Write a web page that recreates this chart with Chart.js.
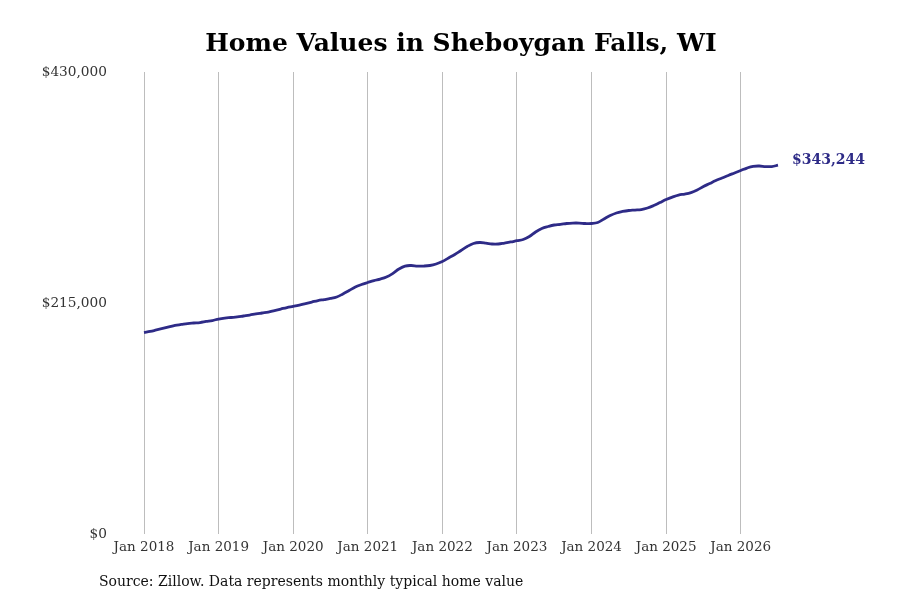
<!DOCTYPE html>
<html>
<head>
    <title>Home Values in Sheboygan Falls, WI</title>
    <script src="https://cdn.jsdelivr.net/npm/chart.js"></script>
    <style>
        body {
            margin: 0;
            background-color: #ffffff;
        }
        #wrap {
            width: 900px;
            height: 600px;
        }
    </style>
</head>
<body>
    <div id="wrap"><canvas id="homeChart"></canvas></div>
    <script>
        // monthly typical home value, Jan 2018 .. Jul 2026
        const homeValues = [
            187400, 188500, 189900, 191300, 192700, 194100, 195000, 195900, 196400, 196800, 197800, 198700,
            200100, 201000, 201500, 202000, 202900, 203800, 204800, 205700, 206600, 208000, 209400, 210800,
            211900, 213100, 214500, 215900, 217300, 218200, 219200, 220600, 223400, 226600, 229900, 232200,
            234100, 235900, 237300, 239200, 242400, 246600, 249400, 249900, 249400, 249400, 249900, 251300,
            253600, 256900, 260100, 263900, 267600, 270400, 271300, 270800, 269900, 269900, 270800, 271800,
            273000, 274100, 276900, 281100, 284300, 286200, 287600, 288100, 289000, 289400, 289400, 289000,
            289000, 289900, 293200, 296400, 298800, 300200, 301100, 301500, 302000, 303400, 305700, 308500,
            311300, 313600, 315500, 316400, 317800, 320200, 323400, 326200, 329000, 331300, 333700, 336000,
            338300, 340600, 342200, 342500, 342000, 342000, 343244
        ];
        const tickMonths = [0, 12, 24, 36, 48, 60, 72, 84, 96];
        const tickLabels = ['Jan 2018', 'Jan 2019', 'Jan 2020', 'Jan 2021', 'Jan 2022', 'Jan 2023', 'Jan 2024', 'Jan 2025', 'Jan 2026'];
        const yTicks = [0, 215000, 430000];
        const endLabel = '$343,244';
        const lineColor = '#2e2b87';

        Chart.defaults.font.family = "'DejaVu Serif', serif";
        Chart.defaults.color = '#333333';

        const extras = {
            id: 'extras',
            afterDatasetsDraw(chart) {
                const ctx = chart.ctx;
                const pts = chart.getDatasetMeta(0).data;
                const last = pts[pts.length - 1];
                ctx.save();
                ctx.fillStyle = lineColor;
                ctx.font = "bold 14px 'DejaVu Serif', serif";
                ctx.textBaseline = 'middle';
                ctx.textAlign = 'left';
                ctx.fillText(endLabel, last.x + 14, last.y - 5);
                // source line
                ctx.fillStyle = '#111111';
                ctx.font = "14px 'DejaVu Serif', serif";
                ctx.fillText('Source: Zillow. Data represents monthly typical home value', 99, 582);
                ctx.restore();
            }
        };

        new Chart(document.getElementById('homeChart'), {
            type: 'line',
            data: {
                datasets: [{
                    data: homeValues.map((v, i) => ({ x: i, y: v })),
                    borderColor: lineColor,
                    borderWidth: 2.8,
                    pointRadius: 0,
                    tension: 0.4,
                    fill: false,
                    clip: false
                }]
            },
            options: {
                responsive: true,
                maintainAspectRatio: false,
                animation: false,
                layout: { padding: { left: 0, right: 122, top: 0, bottom: 46 } },
                plugins: {
                    legend: { display: false },
                    tooltip: { enabled: false },
                    title: {
                        display: true,
                        text: 'Home Values in Sheboygan Falls, WI',
                        color: '#000000',
                        fullSize: false,
                        font: { size: 25, weight: 'bold', lineHeight: 1.2 },
                        padding: { top: 29, bottom: 13 }
                    }
                },
                scales: {
                    x: {
                        type: 'linear',
                        min: 0,
                        max: homeValues.length - 1,
                        afterBuildTicks: (scale) => { scale.ticks = tickMonths.map(v => ({ value: v })); },
                        afterFit: (scale) => { scale.height = 20; },
                        grid: { color: '#bdbdbd', lineWidth: 1, drawTicks: false },
                        border: { display: false },
                        ticks: {
                            padding: 5,
                            maxRotation: 0,
                            autoSkip: false,
                            font: { size: 13.5 },
                            callback: (v) => tickLabels[tickMonths.indexOf(v)]
                        }
                    },
                    y: {
                        min: 0,
                        max: 430000,
                        afterBuildTicks: (scale) => { scale.ticks = yTicks.map(v => ({ value: v })); },
                        afterFit: (scale) => { scale.width = 144; },
                        grid: { display: false, drawTicks: false },
                        border: { display: false },
                        ticks: {
                            padding: 37,
                            font: { size: 13.7 },
                            callback: (v) => '$' + v.toLocaleString('en-US')
                        }
                    }
                }
            },
            plugins: [extras]
        });
    </script>
</body>
</html>
